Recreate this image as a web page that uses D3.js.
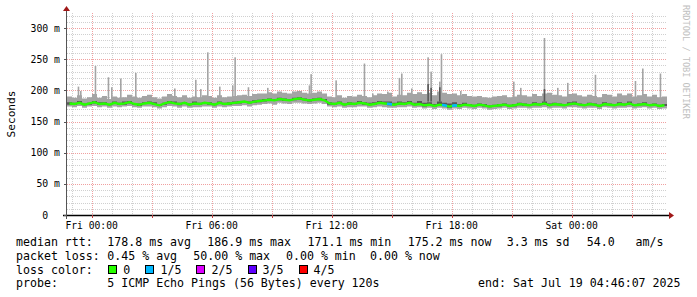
<!DOCTYPE html>
<html><head><meta charset="utf-8">
<script src="https://cdn.jsdelivr.net/npm/d3@7"></script>
<style>
body{margin:0;background:#fff}
svg{display:block}
text{font-family:"DejaVu Sans Mono",monospace;fill:#000}
</style>
</head><body><svg id="c" width="697" height="297"></svg>
<script>
// ---- data (ms) ----
const startTime = new Date(2025, 6, 17, 22, 46, 7);
const endTime = new Date(2025, 6, 19, 4, 46, 7);
const stepMinutes = 15;
const median = [
179,178,180,177,179,181,178,179,177,180,178,179,181,178,177,179,180,178,176,179,
181,179,178,180,177,179,178,180,179,177,180,178,179,
180,181,182,180,182,183,
184,185,184,186,185,184,186,187,185,184,185,186,184,
179,178,180,177,179,178,180,179,177,178,180,179,178,177,179,178,180,177,178,
176,177,175,177,176,174,176,175,177,176,175,177,176,174,175,176,177,175,176,178,
177,176,178,177,179,176,178,177,176,178,179,177,176,178,177,175,178,177,176,178,177,179,176,177,178,176,177,175,176];
const pingMin = [
174,173,175,172,174,175,173,174,172,174,173,174,175,173,172,174,174,173,171,173,
175,174,172,174,172,173,173,174,174,172,174,173,174,
175,175,176,174,176,177,
178,179,177,180,179,178,180,180,179,178,179,180,178,
174,173,174,172,173,173,174,174,172,173,174,173,172,172,173,173,174,172,173,
171,172,170,172,171,169,171,170,172,171,170,172,171,169,170,171,172,170,171,172,
172,171,172,172,173,171,172,172,171,173,173,172,171,172,172,170,173,172,171,172,172,173,171,172,173,171,172,170,171];
const ping2 = [
177,177,178,176,177,179,177,177,176,178,177,177,179,177,175,178,178,177,175,177,
179,178,176,178,176,177,177,178,177,176,178,177,177,
178,179,180,179,180,181,
182,183,183,184,183,183,184,185,184,182,184,184,183,
177,177,178,176,177,177,178,177,176,177,178,178,176,176,177,177,178,176,177,
174,175,174,175,175,172,174,174,175,175,174,175,174,173,174,174,175,174,174,176,
175,175,176,176,177,175,176,176,175,176,177,176,175,176,176,174,176,176,175,176,176,177,175,176,176,175,176,174,175];
const ping4 = [
181,180,183,179,180,183,181,181,178,182,180,182,183,179,179,181,182,181,178,180,
183,182,180,181,179,182,180,181,181,179,182,180,181,
182,183,183,182,184,185,
186,187,186,188,187,186,188,189,187,186,187,188,186,
181,180,182,179,181,180,183,181,180,181,183,182,182,180,182,181,183,180,183,
180,181,178,182,180,179,181,178,180,178,177,179,178,176,177,178,179,177,178,180,
179,178,181,179,182,179,180,179,178,181,182,179,178,180,179,177,181,179,178,181,179,182,178,179,181,178,179,177,178];
const pingMax = [
190,188,192,187,189,194,188,191,186,190,188,189,193,190,188,191,193,189,187,190,
194,191,189,192,188,190,189,192,191,188,192,189,190,
191,192,193,191,194,195,
195,197,195,198,196,195,198,199,196,195,196,198,195,
190,189,192,188,191,190,193,191,189,192,195,194,196,190,193,192,196,194,197,
194,196,192,198,196,194,195,192,194,191,190,191,189,188,190,191,192,189,190,193,
192,190,194,191,195,196,193,192,190,194,195,192,190,193,191,189,194,193,190,195,192,195,190,192,194,190,193,189,190];
const lossIndex = [64, 75, 77];
const lossPings = [1, 1, 1];
const spikeMinutes = [32,39,83,122,132,159,204,321,384,399,420,456,495,502,542,600,725,730,805,890,915,960,995,1002,1032,1081,1090,1116,1121,1179,1338,1359,1430,1470,1500,1583,1703,1725,1778];
const spikeValues  = [206,199,239,221,205,219,228,203,217,202,261,206,208,253,205,204,208,226,216,243,195,198,220,227,203,253,230,214,258,199,214,204,284,204,212,225,215,235,227];
const darkSpikeMinutes = [1081,1090,1116,1430];
const darkSpikeValues  = [210,204,205,202];
const yTicks = [0, 50, 100, 150, 200, 250, 300];
const lossLabels = ["0", "1/5", "2/5", "3/5", "4/5"];
const lossColors = ["#26ff00", "#00b8ff", "#dd00ff", "#5e00ff", "#ff0000"];

// ---- layout ----
const svg = d3.select("#c");
const L = 67, R = 667, T = 15, B = 215;
const x = d3.scaleTime().domain([startTime, endTime]).range([L, R]);
const y = d3.scaleLinear().domain([0, 320.9]).range([B, T]);
const tAt = (i) => new Date(startTime.getTime() + i * stepMinutes * 60000);
const tMin = (m) => new Date(startTime.getTime() + m * 60000);

// grid
const g = svg.append("g");
d3.range(0, 321, 10).filter(v => v % 50 !== 0).forEach(v => {
  g.append("line").attr("x1", L).attr("x2", R).attr("y1", Math.round(y(v)) + 0.5).attr("y2", Math.round(y(v)) + 0.5)
    .attr("stroke", "#d0d0d0").attr("stroke-dasharray", "1,1");
});
x.ticks(d3.timeHour.every(1)).forEach(t => {
  if (t.getHours() % 3 === 0) return;
  g.append("line").attr("y1", T - 2).attr("y2", B).attr("x1", Math.round(x(t)) + 0.5).attr("x2", Math.round(x(t)) + 0.5)
    .attr("stroke", "#d0d0d0").attr("stroke-dasharray", "1,1");
});
yTicks.slice(1).forEach(v => {
  g.append("line").attr("x1", L).attr("x2", R).attr("y1", Math.round(y(v)) + 0.5).attr("y2", Math.round(y(v)) + 0.5)
    .attr("stroke", "#f0a0a0").attr("stroke-dasharray", "1,1");
});
x.ticks(d3.timeHour.every(3)).forEach(t => {
  g.append("line").attr("y1", T - 2).attr("y2", B).attr("x1", Math.round(x(t)) + 0.5).attr("x2", Math.round(x(t)) + 0.5)
    .attr("stroke", "#f0a0a0").attr("stroke-dasharray", "1,1");
});

// smoke
const idx = d3.range(median.length + 1);
const cl = (i) => Math.min(i, median.length - 1);
const areaOuter = d3.area().curve(d3.curveStepAfter)
  .x(i => x(tAt(i))).y0(i => y(pingMin[cl(i)])).y1(i => y(pingMax[cl(i)]));
const areaInner = d3.area().curve(d3.curveStepAfter)
  .x(i => x(tAt(i))).y0(i => y(ping2[cl(i)])).y1(i => y(ping4[cl(i)]));
svg.append("path").attr("d", areaOuter(idx)).attr("fill", "#a4a4a4");
spikeMinutes.forEach((m, k) => {
  svg.append("rect").attr("x", x(tMin(m))).attr("width", 1.6)
    .attr("y", y(spikeValues[k])).attr("height", y(185) - y(spikeValues[k])).attr("fill", "#a4a4a4");
});
svg.append("path").attr("d", areaInner(idx)).attr("fill", "#585858");
darkSpikeMinutes.forEach((m, k) => {
  svg.append("rect").attr("x", x(tMin(m))).attr("width", 1.6)
    .attr("y", y(darkSpikeValues[k])).attr("height", y(182) - y(darkSpikeValues[k])).attr("fill", "#585858");
});

// median line coloured by loss
const lossArr = median.map(() => 0);
lossIndex.forEach((i, k) => lossArr[i] = lossPings[k]);
const mid = (i) => new Date(tAt(i).getTime() + stepMinutes * 30000);
const line = d3.line().x(d => x(d[0])).y(d => y(d[1]));
svg.append("path").attr("d", line(median.map((v, i) => [mid(i), v])))
  .attr("fill", "none").attr("stroke", lossColors[0]).attr("stroke-width", 2.4);
lossArr.forEach((l, i) => {
  if (!l) return;
  const a = i > 0 ? [tAt(i), (median[i - 1] + median[i]) / 2] : [mid(i), median[i]];
  const c = i < median.length - 1 ? [tAt(i + 1), (median[i] + median[i + 1]) / 2] : [mid(i), median[i]];
  svg.append("path").attr("d", line([a, [mid(i), median[i]], c]))
    .attr("fill", "none").attr("stroke", lossColors[l]).attr("stroke-width", 2.6);
});

// axes
svg.append("line").attr("x1", L - 4).attr("x2", R + 3).attr("y1", B + 0.5).attr("y2", B + 0.5)
  .attr("stroke", "#000").attr("stroke-width", 1.4);
svg.append("line").attr("x1", L - 0.5).attr("x2", L - 0.5).attr("y1", B + 4).attr("y2", T - 4)
  .attr("stroke", "#555").attr("stroke-width", 1);
svg.append("path").attr("d", `M${R + 2},${B - 3} L${R + 7},${B + 0.5} L${R + 2},${B + 4} Z`).attr("fill", "#a01818");
svg.append("path").attr("d", `M${L - 4},${T - 4} L${L - 0.5},${T - 9} L${L + 3},${T - 4} Z`).attr("fill", "#a01818");
yTicks.forEach(v => {
  svg.append("line").attr("x1", L - 3).attr("x2", L).attr("y1", Math.round(y(v)) + 0.5).attr("y2", Math.round(y(v)) + 0.5)
    .attr("stroke", "#555");
});
x.ticks(d3.timeHour.every(3)).forEach(t => {
  svg.append("line").attr("x1", Math.round(x(t)) + 0.5).attr("x2", Math.round(x(t)) + 0.5).attr("y1", B).attr("y2", B + 3)
    .attr("stroke", "#c04040");
});

// tick labels
const fmtY = v => v === 0 ? "0\u00a0\u00a0" : v + " m";
yTicks.forEach(v => {
  svg.append("text").attr("x", 60).attr("y", y(v) + 3.5).attr("text-anchor", "end")
    .attr("font-size", "9.8px").text(fmtY(v));
});
const fmtX = d3.timeFormat("%a %H:%M");
x.ticks(d3.timeHour.every(6)).forEach(t => {
  svg.append("text").attr("x", x(t)).attr("y", 228.5).attr("text-anchor", "middle")
    .attr("font-size", "9.7px").text(fmtX(t));
});

// vertical labels
svg.append("text").attr("transform", "translate(15,114) rotate(-90)").attr("text-anchor", "middle")
  .attr("font-size", "11.2px").text("Seconds");
svg.append("text").attr("transform", "translate(683,5) rotate(90)").attr("text-anchor", "start")
  .attr("font-size", "8.6px").style("fill", "#c0c0c0").text("RRDTOOL / TOBI OETIKER");

// legend
const fs = "11.6px";
const put = (xx, yy, s, anchor) => svg.append("text").attr("x", xx).attr("y", yy)
  .attr("font-size", fs).attr("text-anchor", anchor || "start").style("white-space", "pre").text(s);
const l1 = 245.5, l2 = 259.5, l3 = 273.5, l4 = 287;
put(16, l1, "median rtt:");
put(107.3, l1, "178.8 ms avg");
put(207.3, l1, "186.9 ms max");
put(307.5, l1, "171.1 ms min");
put(407.7, l1, "175.2 ms now");
put(506.7, l1, "3.3 ms sd");
put(586.7, l1, "54.0\u00a0\u00a0\u00a0am/s");
put(16, l2, "packet loss:");
put(107.3, l2, "0.45 % avg");
put(193.3, l2, "50.00 % max");
put(286, l2, "0.00 % min");
put(370, l2, "0.00 % now");
put(16, l3, "loss color:");
let bx = 108.3;
lossLabels.forEach((lab, k) => {
  svg.append("rect").attr("x", Math.round(bx) + 0.5).attr("y", 265.5).attr("width", 8).attr("height", 8)
    .attr("fill", lossColors[k]).attr("stroke", "#000").attr("stroke-width", 1);
  put(bx + 15, l3, lab);
  bx = bx + 15 + lab.length * 6.95 + 15.2;
});
put(16, l4, "probe:");
put(107.3, l4, "5 ICMP Echo Pings (56 Bytes) every 120s");
put(680.5, l4, "end: Sat Jul 19 04:46:07 2025", "end");
</script>
</body></html>
